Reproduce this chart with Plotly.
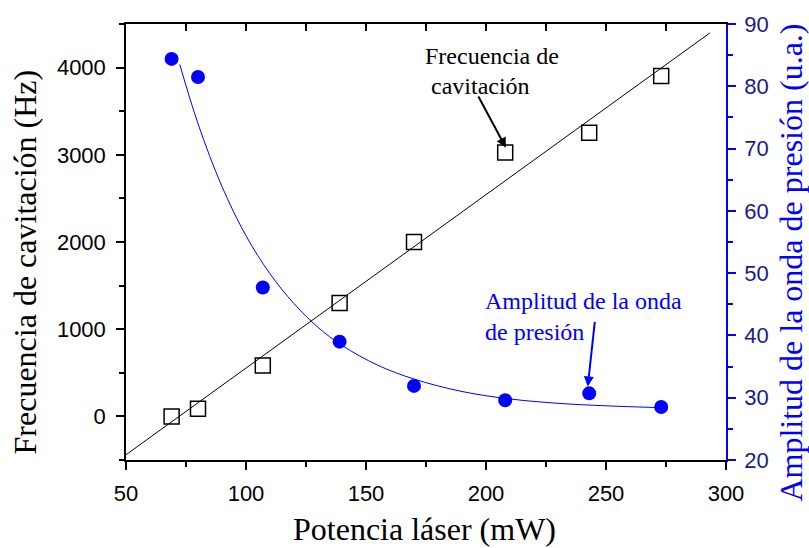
import plotly.graph_objects as go

# ---- data ----
power_mw = [69, 80, 107, 139, 170, 208, 243, 273]
freq_hz = [0, 87, 585, 1300, 2000, 3026, 3253, 3903]
amplitude_ua = [84.4, 81.5, 47.7, 39.0, 31.9, 29.6, 30.7, 28.5]

# linear fit line (end points)
lin_fit_x = [50, 293.3]
lin_fit_y = [-440, 4398]

# decay fit curve
decay_fit_x = [72.4, 80, 90, 100, 110, 120, 130, 140, 155, 170, 190, 210, 230, 250, 273]
decay_fit_y = [83.5, 74.0, 63.9, 56.0, 49.9, 45.1, 41.3, 38.4, 35.2, 33.0, 31.0, 29.8, 29.1, 28.7, 28.4]

x_ticks = [50, 100, 150, 200, 250, 300]
y_left_ticks = [0, 1000, 2000, 3000, 4000]
y_right_ticks = [20, 30, 40, 50, 60, 70, 80, 90]

BLUE = "#0000FF"
NAVY = "#1A1A8C"
SERIF = "Liberation Serif, Times New Roman, serif"
SANS = "Liberation Sans, Arial, sans-serif"

fig = go.Figure()

fig.add_trace(go.Scatter(x=lin_fit_x, y=lin_fit_y, mode="lines",
                         line=dict(color="black", width=1), showlegend=False,
                         hoverinfo="skip"))
fig.add_trace(go.Scatter(x=power_mw, y=freq_hz, mode="markers",
                         marker=dict(symbol="square-open", size=15, color="black",
                                     line=dict(width=1.5, color="black")),
                         showlegend=False))
fig.add_trace(go.Scatter(x=decay_fit_x, y=decay_fit_y, mode="lines", yaxis="y2",
                         line=dict(color=BLUE, width=1, shape="spline"),
                         showlegend=False, hoverinfo="skip"))
fig.add_trace(go.Scatter(x=power_mw, y=amplitude_ua, mode="markers", yaxis="y2",
                         marker=dict(symbol="circle", size=14, color=BLUE),
                         showlegend=False))
# empty trace so the top mirror axis is drawn
fig.add_trace(go.Scatter(x=[], y=[], xaxis="x2", yaxis="y", showlegend=False))

axis_common = dict(showgrid=False, zeroline=False, showline=True, linewidth=1.5)

fig.update_layout(
    width=809, height=548,
    margin=dict(l=126, r=83, t=20, b=88),
    plot_bgcolor="white", paper_bgcolor="white",
    xaxis=dict(range=[50, 300], tickvals=x_ticks, ticks="outside", ticklen=8,
               tickwidth=1.5, linecolor="black", tickcolor="black",
               minor=dict(dtick=25, ticks="outside", ticklen=5, tickwidth=1.5,
                          tickcolor="black"),
               tickfont=dict(family=SANS, size=22, color="black"),
               ticklabelstandoff=5,
               **axis_common),
    xaxis2=dict(range=[50, 300], overlaying="x", side="top", anchor="y",
                dtick=25, tick0=50, ticks="inside", ticklen=7, tickwidth=1.5,
                showticklabels=False, linecolor="black", tickcolor="black",
                **axis_common),
    yaxis=dict(range=[-500, 4500], tickvals=y_left_ticks, ticks="outside",
               ticklen=8, tickwidth=1.5, linecolor="black", tickcolor="black",
               minor=dict(dtick=500, tick0=0, ticks="outside", ticklen=5,
                          tickwidth=1.5, tickcolor="black"),
               tickfont=dict(family=SANS, size=22, color="black"),
               ticklabelstandoff=6,
               **axis_common),
    yaxis2=dict(range=[20, 90], tickvals=y_right_ticks, overlaying="y",
                side="right", anchor="x", ticks="outside", ticklen=8,
                tickwidth=1.5, linecolor=BLUE, tickcolor=BLUE,
                minor=dict(dtick=5, tick0=20, ticks="outside", ticklen=5,
                           tickwidth=1.5, tickcolor=BLUE),
                tickfont=dict(family=SANS, size=22, color=NAVY),
                ticklabelstandoff=4,
                **axis_common),
)

# axis titles
fig.add_annotation(text="Potencia láser (mW)", xref="paper", yref="paper",
                   x=0.497, y=-0.159, xanchor="center", yanchor="middle",
                   showarrow=False, font=dict(family=SERIF, size=32, color="black"))
fig.add_annotation(text="Frecuencia de cavitación (Hz)", xref="paper", yref="paper",
                   x=-0.169, y=0.4545, xanchor="center", yanchor="middle",
                   textangle=-90, showarrow=False,
                   font=dict(family=SERIF, size=32, color="black"))
fig.add_annotation(text="Amplitud de la onda de presión (u.a.)", xref="paper",
                   yref="paper", x=1.108, y=0.4523, xanchor="center",
                   yanchor="middle", textangle=-90, showarrow=False,
                   font=dict(family=SERIF, size=32, color=BLUE))

# in-plot labels
fig.add_annotation(text="Frecuencia de", x=202.7, y=4128, xref="x", yref="y",
                   showarrow=False, xanchor="center", yanchor="middle",
                   font=dict(family=SERIF, size=24, color="black"))
fig.add_annotation(text="cavitación", x=197.6, y=3789, xref="x", yref="y",
                   showarrow=False, xanchor="center", yanchor="middle",
                   font=dict(family=SERIF, size=24, color="black"))
fig.add_annotation(text="Amplitud de la onda", x=198.6, y=45.6, xref="x", yref="y2",
                   showarrow=False, xanchor="left", yanchor="middle",
                   font=dict(family=SERIF, size=24, color=BLUE))
fig.add_annotation(text="de presión", x=198.6, y=40.6, xref="x", yref="y2",
                   showarrow=False, xanchor="left", yanchor="middle",
                   font=dict(family=SERIF, size=24, color=BLUE))

# arrows
fig.add_annotation(text="", x=208.3, y=3081, ax=196.5, ay=3686,
                   xref="x", yref="y", axref="x", ayref="y",
                   showarrow=True, arrowhead=2, arrowsize=1, arrowwidth=2,
                   arrowcolor="black", standoff=0, startstandoff=0)
fig.add_annotation(text="", x=242.4, y=31.8, ax=245.4, ay=42.4,
                   xref="x", yref="y2", axref="x", ayref="y2",
                   showarrow=True, arrowhead=2, arrowsize=1, arrowwidth=2,
                   arrowcolor=BLUE, standoff=0, startstandoff=0)

fig.write_html(
    "out.html",
    config={"displayModeBar": False},
    post_script="document.body.style.margin='0';document.body.style.overflow='hidden';",
)
